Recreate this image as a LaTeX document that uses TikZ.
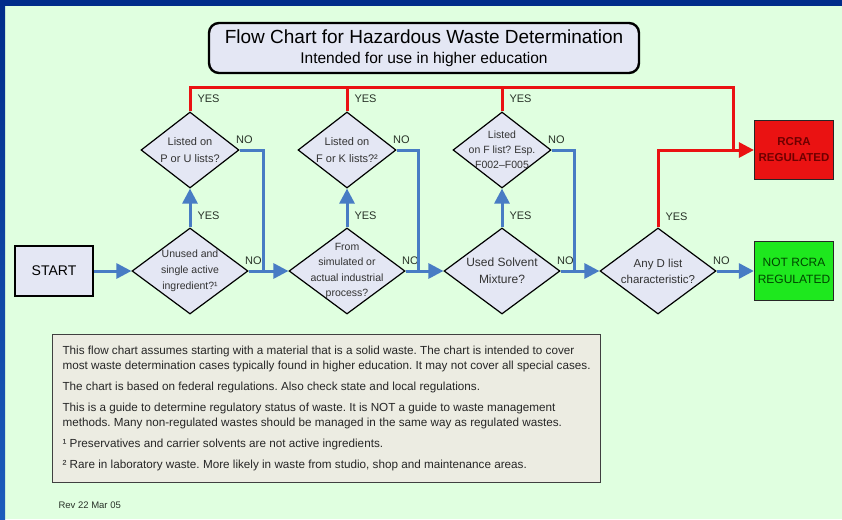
\documentclass[tikz,border=0pt]{standalone}
\usepackage{fontspec}
\setmainfont{Liberation Sans}
\usepackage{tikz}
\usepackage{xcolor}
\usetikzlibrary{shapes.geometric, arrows.meta, positioning, calc}
\frenchspacing

\definecolor{bggreen}{RGB}{224,255,224}
\definecolor{frameblue}{RGB}{0,44,138}
\definecolor{lightblue}{RGB}{28,92,188}
\definecolor{qfill}{RGB}{228,231,244}
\definecolor{noblue}{RGB}{72,124,196}
\definecolor{yesred}{RGB}{234,18,18}
\definecolor{darkred}{RGB}{110,0,0}
\definecolor{okgreen}{RGB}{30,232,30}
\definecolor{darkgreen}{RGB}{0,70,0}
\definecolor{notefill}{RGB}{236,236,226}
\definecolor{labgray}{RGB}{40,50,40}

\begin{document}
\begin{tikzpicture}[x=1pt, y=-1pt,
  question/.style={draw, diamond, fill=qfill, line width=1.2pt, inner sep=-12pt,
    minimum width=116pt, minimum height=86pt, align=center, text=black!80},
  listq/.style={question, minimum width=98pt, minimum height=76pt},
  result/.style={draw=black!85, line width=1.2pt, minimum width=79pt, minimum height=59pt, align=center},
  nolink/.style={draw=noblue, line width=3pt},
  yeslink/.style={draw=yesred, line width=3pt},
  tip/.style={-{Triangle[length=15pt, width=15pt]}},
  lab/.style={font=\fontsize{11}{12}\selectfont, text=labgray, inner sep=2pt},
  yeslab/.style={lab, right, xshift=4pt},
  nolab/.style={lab, anchor=south west, xshift=-7pt, yshift=3pt}]
\useasboundingbox (0,0) rectangle (842,519);

% Background and frame
\fill[bggreen] (0,0) rectangle (842,519);
\fill[frameblue] (0,0) rectangle (842,6);
\shade[top color=frameblue, bottom color=lightblue] (0,0) rectangle (5,519);

% Title
\node[draw, rounded corners=10pt, fill=qfill, line width=2.4pt, minimum width=430pt, minimum height=50pt,
  align=center, font=\fontsize{15.5}{20}\selectfont] (title) at (424,48)
  {{\fontsize{19}{20}\selectfont Flow Chart for Hazardous Waste Determination}\\Intended for use in higher education};

% Start
\node[draw, fill=qfill, line width=1.2pt, minimum width=78pt, minimum height=50pt,
  font=\fontsize{14}{16}\selectfont] (start) at (54,271) {START};

% First decision
\node[question, font=\fontsize{10.5}{16}\selectfont] (unused) at (190,271) {Unused and\\single active\\ingredient?¹};
\draw[nolink, tip] (start) -- (unused);

\node[listq, font=\fontsize{11}{17}\selectfont] (pulist) at (190,150) {Listed on\\P or U lists?};
\draw[nolink, tip] (unused) -- node[yeslab, pos=0.3] {YES} (pulist);

% Second decision
\node[question, font=\fontsize{10.5}{15.5}\selectfont] (process) at (347,271) {From\\simulated or\\actual industrial\\process?};
\coordinate (j1) at (263,271);
\draw[nolink, tip] (unused) -- node[nolab, pos=0] {NO} (process);
\draw[nolink] (pulist.east) node[nolab] {NO} -| (j1);

\node[listq, font=\fontsize{11}{17}\selectfont] (fklist) at (347,150) {Listed on\\F or K lists?²};
\draw[nolink, tip] (process) -- node[yeslab, pos=0.3] {YES} (fklist);

% Third decision
\node[question, font=\fontsize{12}{17}\selectfont] (solvent) at (502,271) {Used Solvent\\Mixture?};
\coordinate (j2) at (418,271);
\draw[nolink, tip] (process) -- node[nolab, pos=0] {NO} (solvent);
\draw[nolink] (fklist.east) node[nolab] {NO} -| (j2);

\node[listq, font=\fontsize{10.5}{15}\selectfont] (flist) at (502,150) {Listed\\on F list? Esp.\\F002--F005};
\draw[nolink, tip] (solvent) -- node[yeslab, pos=0.3] {YES} (flist);

% Last decision
\node[question, font=\fontsize{11.5}{16}\selectfont] (dlist) at (658,271) {Any D list\\characteristic?};
\coordinate (j3) at (574,271);
\draw[nolink, tip] (solvent) -- node[nolab, pos=0] {NO} (dlist);
\draw[nolink] (flist.east) node[nolab] {NO} -| (j3);

% Results
\node[result, fill=yesred, text=darkred, font=\bfseries\fontsize{11.5}{16}\selectfont] (rcra) at (794,150) {RCRA\\REGULATED};
\node[result, fill=okgreen, text=darkgreen, font=\fontsize{12}{17}\selectfont] (notrcra) at (794,271) {NOT RCRA\\REGULATED};
\draw[nolink, tip] (dlist) -- node[nolab, pos=0] {NO} (notrcra);

% YES branches
\coordinate (redtop) at (733,87);
\coordinate (redjoin) at (733,150);
\draw[yeslink] (pulist.north) -- node[yeslab] {YES} (pulist.north |- redtop) -- (redtop) -- (redjoin);
\draw[yeslink] (fklist.north) -- node[yeslab] {YES} (fklist.north |- redtop);
\draw[yeslink] (flist.north) -- node[yeslab] {YES} (flist.north |- redtop);
\draw[yeslink] (dlist) -- node[yeslab, pos=0.14] {YES} (dlist |- redjoin) -- (redjoin);
\draw[yeslink, tip] (redjoin) -- (rcra);

% Notes
\node[draw=black!75, fill=notefill, line width=1.2pt, minimum width=548pt, minimum height=148pt,
  align=left, anchor=north west, font=\fontsize{11.7}{15}\selectfont, text=black!85] (notes) at (52,334)
  {This flow chart assumes starting with a material that is a solid waste. The chart is intended to cover\\
   most waste determination cases typically found in higher education. It may not cover all special cases.\\[6pt]
   The chart is based on federal regulations. Also check state and local regulations.\\[6pt]
   This is a guide to determine regulatory status of waste. It is NOT a guide to waste management\\
   methods. Many non-regulated wastes should be managed in the same way as regulated wastes.\\[6pt]
   ¹ Preservatives and carrier solvents are not active ingredients.\\[6pt]
   ² Rare in laboratory waste. More likely in waste from studio, shop and maintenance areas.};

\node[anchor=west, font=\fontsize{9.5}{11}\selectfont, text=labgray] (rev) at (55,505) {Rev 22 Mar 05};
\end{tikzpicture}
\end{document}
